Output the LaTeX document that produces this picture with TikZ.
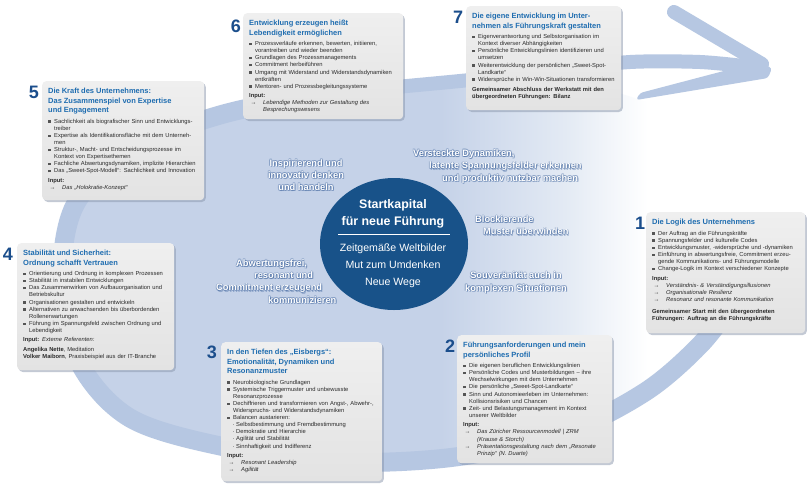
\documentclass[tikz,border=0pt]{standalone}
\usepackage{fontspec}
\setmainfont{Liberation Sans}
\usetikzlibrary{shadows,calc,shapes.geometric}
\setlength{\parindent}{0pt}
\hyphenpenalty=10000
\exhyphenpenalty=10000
\definecolor{bandcol}{HTML}{B6C7E2}
\definecolor{innercol}{HTML}{C5D2E8}
\definecolor{innermid}{HTML}{E3EAF4}
\definecolor{boxtop}{HTML}{EFEFEF}
\definecolor{boxbot}{HTML}{E3E3E3}
\definecolor{titleblue}{HTML}{1F6DB0}
\definecolor{numblue}{HTML}{1B4E8C}
\definecolor{circleblue}{HTML}{185289}
\definecolor{txtgray}{HTML}{2A2A2A}
\definecolor{bulgray}{HTML}{555555}
\definecolor{glowcol}{HTML}{2F5896}
\definecolor{shadowcol}{HTML}{8895AB}
\pgfdeclarehorizontalshading{innershade}{100bp}{color(0bp)=(innercol); color(25bp)=(innercol); color(52.5bp)=(innercol); color(61.5bp)=(innermid); color(67.5bp)=(white); color(100bp)=(white)}
\newcommand{\bodyfont}{\fontsize{5.8}{7.1}\selectfont}
\newcommand{\btitle}[1]{{\noindent\fontsize{7.5}{9.5}\selectfont\bfseries\color{titleblue}#1\par}\vspace{3.4pt}}
\newcommand{\bitem}[1]{\hangindent=6pt\hangafter=1\noindent\makebox[6pt][l]{\raisebox{0.5pt}{\textcolor{bulgray}{\rule{2.3pt}{2.3pt}}}}#1\par}
\newcommand{\bsub}[1]{\hangindent=9pt\hangafter=1\noindent\hspace*{5.5pt}\makebox[3.5pt][l]{·}#1\par}
\newcommand{\binput}[1][]{\vspace{2.4pt}\noindent\textbf{Input:}#1\par}
\newcommand{\barr}[1]{\hangindent=14pt\hangafter=1\noindent\makebox[14pt][l]{\hspace{1.5pt}→}\textit{#1}\par}
\newcommand{\glownode}[4]{%
  \foreach \a in {0,45,...,315}{\node[glowtext, text=glowcol, opacity=0.2, #3] at ($(#2)+(\a:0.9)$) {#4};}
  \node[glowtext, text=glowcol, opacity=0.35, #3] at ($(#2)+(0.9,1.1)$) {#4};
  \node[glowtext, text=white, #3] (#1) at (#2) {#4};}
\begin{document}
\begin{tikzpicture}[x=1pt,y=-1pt,
  box/.style={draw=none, rounded corners=4pt, top color=boxtop, bottom color=boxbot,
    drop shadow={shadow xshift=1.6pt, shadow yshift=-1.8pt, fill=shadowcol, opacity=0.5},
    anchor=north west, inner sep=0pt},
  boxtext/.style={anchor=north west, inner sep=0pt, align=left, font=\bodyfont, text=txtgray},
  num/.style={font=\fontsize{18}{18}\selectfont\bfseries, text=numblue, inner sep=0pt},
  glowtext/.style={font=\fontsize{9.3}{12.3}\selectfont\bfseries, inner sep=0pt},
  band/.style={draw=bandcol, line width=19pt, line cap=butt},
]
\useasboundingbox (0,0) rectangle (810,488);
\fill[white] (0,0) rectangle (810,488);

% interior of the swirl
\shade[shading=innershade] plot[smooth cycle, tension=0.55] coordinates {(735,300) (700,345) (645,392) (565,432) (455,457) (335,462) (225,447) (130,418) (78,360) (62,280) (75,205) (130,150) (220,115) (320,95) (395,87) (500,80) (600,88) (690,125) (742,195) (748,260)};
% ring band
\draw[band] plot[smooth, tension=0.55] coordinates {(735,300) (700,345) (645,392) (565,432) (455,457) (335,462) (225,447) (130,418) (78,360) (62,280) (75,205) (130,150) (220,115) (320,95) (395,87)};
% shaft and arrow head
\draw[bandcol, line width=14pt] plot[smooth, tension=0.5] coordinates {(385,88) (470,80) (560,70) (630,62) (700,62) (752,67)};
\draw[bandcol, line width=14pt, line cap=round] (674,12) -- (762,64);
\fill[bandcol, rounded corners=3pt] (640,93) -- (758,62) -- (772,68) -- (768,78) -- (636,100) -- cycle;

% central circle
\node[ellipse, fill=circleblue, minimum width=148pt, minimum height=132pt, inner sep=0pt] (circ) at (394,244) {};
\node[font=\fontsize{12.4}{17}\selectfont\bfseries, text=white, align=center, inner sep=0pt] (ctitle) at (393,214) {Startkapital\\für neue Führung};
\draw[white, line width=0.9pt] ($(circ.center)+(-56,-10)$) -- ($(circ.center)+(56,-10)$);
\node[font=\fontsize{10.6}{17}\selectfont, text=white, align=center, inner sep=0pt] (csub) at (393,266) {Zeitgemäße Weltbilder\\Mut zum Umdenken\\Neue Wege};

% glowing texts
\glownode{g1}{306,175}{align=center}{Inspirierend und\\innovativ denken\\und handeln}
\glownode{g2}{413,166.5}{align=left, anchor=west}{Versteckte Dynamiken,\\\hspace*{16pt}latente Spannungsfelder erkennen\\\hspace*{29pt}und produktiv nutzbar machen}
\glownode{g3}{475,225.5}{align=left, anchor=west}{Blockierende\\\hspace*{8pt}Muster überwinden}
\glownode{g4}{516,282.5}{align=center}{Souveränität auch in\\komplexen Situationen}
\glownode{g5}{216,281.5}{align=left, anchor=west}{\hspace*{20pt}Abwertungsfrei,\\\hspace*{38pt}resonant und\\Commitment erzeugend\\\hspace*{52pt}kommunizieren}

% box 1
\node[box, minimum width=159pt, minimum height=121pt] (b1) at (646,212) {};
\node[boxtext, text width=152pt] (t1) at ($(b1.north west)+(6,7)$) {%
\btitle{Die Logik des Unternehmens}
\bitem{Der Auftrag an die Führungskräfte}
\bitem{Spannungsfelder und kulturelle Codes}
\bitem{Entwicklungsmuster, -widersprüche und -dynamiken}
\bitem{Einführung in abwertungsfreie, Commitment erzeu-\newline gende Kommunikations- und Führungsmodelle}
\bitem{Change-Logik im Kontext verschiedener Konzepte}
\binput
\barr{Verständnis- \& Verständigungsillusionen}
\barr{Organisationale Resilienz}
\barr{Resonanz und resonante Kommunikation}
\vspace{4.9pt}
{\bfseries Gemeinsamer Start mit den übergeordneten\newline Führungen: Auftrag an die Führungskräfte\par}};
\node[num] (n1) at (640,223) {1};

% box 2
\node[box, minimum width=155pt, minimum height=128pt] (b2) at (457,335) {};
\node[boxtext, text width=148pt] (t2) at ($(b2.north west)+(6,7)$) {%
\btitle{Führungsanforderungen und mein\newline persönliches Profil}
\bitem{Die eigenen beruflichen Entwicklungslinien}
\bitem{Persönliche Codes und Musterbildungen – ihre\newline Wechselwirkungen mit dem Unternehmen}
\bitem{Die persönliche „Sweet-Spot-Landkarte“}
\bitem{Sinn und Autonomieerleben im Unternehmen:\newline Kollisionsrisiken und Chancen}
\bitem{Zeit- und Belastungsmanagement im Kontext\newline unserer Weltbilder}
\binput
\barr{Das Züricher Ressourcenmodell | ZRM\newline (Krause \& Storch)}
\barr{Präsentationsgestaltung nach dem „Resonate\newline Prinzip“ (N. Duarte)}};
\node[num] (n2) at (450,346) {2};

% box 3
\node[box, minimum width=161pt, minimum height=139pt] (b3) at (221,342) {};
\node[boxtext, text width=154pt] (t3) at ($(b3.north west)+(6,7)$) {%
\btitle{In den Tiefen des „Eisbergs“:\newline Emotionalität, Dynamiken und\newline Resonanzmuster}
\bitem{Neurobiologische Grundlagen}
\bitem{Systemische Triggermuster und unbewusste\newline Resonanzprozesse}
\bitem{Dechiffrieren und transformieren von Angst-, Abwehr-,\newline Widerspruchs- und Widerstandsdynamiken}
\bitem{Balancen austarieren:}
\bsub{Selbstbestimmung und Fremdbestimmung}
\bsub{Demokratie und Hierarchie}
\bsub{Agilität und Stabilität}
\bsub{Sinnhaftigkeit und Indifferenz}
\binput
\barr{Resonant Leadership}
\barr{Agilität}};
\node[num] (n3) at (212,352) {3};

% box 4
\node[box, minimum width=157pt, minimum height=127pt] (b4) at (17,243) {};
\node[boxtext, text width=150pt] (t4) at ($(b4.north west)+(6,7)$) {%
\btitle{Stabilität und Sicherheit:\newline Ordnung schafft Vertrauen}
\bitem{Orientierung und Ordnung in komplexen Prozessen}
\bitem{Stabilität in instabilen Entwicklungen}
\bitem{Das Zusammenwirken von Aufbauorganisation und\newline Betriebskultur}
\bitem{Organisationen gestalten und entwickeln}
\bitem{Alternativen zu anwachsenden bis überbordenden\newline Rollenerwartungen}
\bitem{Führung im Spannungsfeld zwischen Ordnung und\newline Lebendigkeit}
\binput[ \textit{Externe Referenten:}]
\vspace{2.2pt}
\noindent\textbf{Angelika Nette}, Meditation\newline
\textbf{Volker Maiborn}, Praxisbeispiel aus der IT-Branche\par};
\node[num] (n4) at (8,254) {4};

% box 5
\node[box, minimum width=162pt, minimum height=119pt] (b5) at (42,81) {};
\node[boxtext, text width=155pt] (t5) at ($(b5.north west)+(6,7)$) {%
\btitle{Die Kraft des Unternehmens:\newline Das Zusammenspiel von Expertise\newline und Engagement}
\bitem{Sachlichkeit als biografischer Sinn und Entwicklungs-\newline treiber}
\bitem{Expertise als Identifikationsfläche mit dem Unterneh-\newline men}
\bitem{Struktur-, Macht- und Entscheidungsprozesse im\newline Kontext von Expertisethemen}
\bitem{Fachliche Abwertungsdynamiken, implizite Hierarchien}
\bitem{Das „Sweet-Spot-Modell“: Sachlichkeit und Innovation}
\binput
\barr{Das „Holokratie-Konzept“}};
\node[num] (n5) at (34,92) {5};

% box 6
\node[box, minimum width=160pt, minimum height=106pt] (b6) at (243,13) {};
\node[boxtext, text width=153pt] (t6) at ($(b6.north west)+(6,7)$) {%
\btitle{Entwicklung erzeugen heißt\newline Lebendigkeit ermöglichen}
\bitem{Prozessverläufe erkennen, bewerten, initiieren,\newline vorantreiben und wieder beenden}
\bitem{Grundlagen des Prozessmanagements}
\bitem{Commitment herbeiführen}
\bitem{Umgang mit Widerstand und Widerstandsdynamiken\newline entkräften}
\bitem{Mentoren- und Prozessbegleitungssysteme}
\binput
\barr{Lebendige Methoden zur Gestaltung des\newline Besprechungswesens}};
\node[num] (n6) at (236,26) {6};

% box 7
\node[box, minimum width=155pt, minimum height=104pt] (b7) at (466,6) {};
\node[boxtext, text width=148pt] (t7) at ($(b7.north west)+(6,7)$) {%
\btitle{Die eigene Entwicklung im Unter-\newline nehmen als Führungskraft gestalten}
\bitem{Eigenverantwortung und Selbstorganisation im\newline Kontext diverser Abhängigkeiten}
\bitem{Persönliche Entwicklungslinien identifizieren und\newline umsetzen}
\bitem{Weiterentwicklung der persönlichen „Sweet-Spot-\newline Landkarte“}
\bitem{Widersprüche in Win-Win-Situationen transformieren}
\vspace{3.2pt}
{\bfseries Gemeinsamer Abschluss der Werkstatt mit den\newline übergeordneten Führungen: Bilanz\par}};
\node[num] (n7) at (458,17) {7};
\end{tikzpicture}
\end{document}
